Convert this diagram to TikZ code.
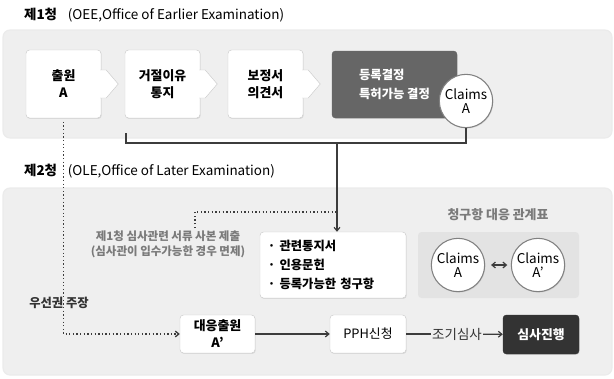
\documentclass[tikz,border=0pt]{standalone}
\usepackage{fontspec}
\setmainfont{Noto Sans CJK KR}
\usetikzlibrary{arrows.meta,shadows,positioning}
\definecolor{panelgray}{HTML}{EFEFEF}
\definecolor{linegray}{HTML}{3C3C3C}
\definecolor{boxline}{HTML}{CCCCCC}
\definecolor{grantgray}{HTML}{666666}
\definecolor{examgray}{HTML}{333333}
\definecolor{notegray}{HTML}{7A7A7A}
\definecolor{tablegray}{HTML}{E3E3E3}

\tikzset{
  panel/.style={fill=panelgray, draw=black!8, line width=1pt, rounded corners=6pt},
  stepbox/.style={draw=boxline, fill=white, rounded corners=3pt, align=center, inner sep=0pt,
    drop shadow={opacity=.2, shadow xshift=.6pt, shadow yshift=-.8pt},
    font=\fontsize{11}{14.5}\selectfont\bfseries},
  tab/.style={draw=boxline, fill=white},
  claim/.style={circle, draw=black!50, line width=.9pt, fill=white, minimum size=1.6cm,
    inner sep=0pt, align=center, font=\fontsize{11.5}{12}\selectfont,
    drop shadow={opacity=.2, shadow xshift=.6pt, shadow yshift=-.8pt}},
  conn/.style={draw=linegray, line width=1pt},
  arr/.style={conn, -{Straight Barb[length=3pt,width=5pt]}},
  dotline/.style={draw=linegray, line width=1.1pt, dotted},
  heading/.style={anchor=west, font=\fontsize{11.5}{14}\selectfont}
}

\begin{document}
\begin{tikzpicture}[x=0.03cm,y=-0.03cm]
\useasboundingbox (0,0) rectangle (614,378);

\node[heading] (ttl1) at (20,15) {\textbf{제1청}\hspace{.8em}(OEE,Office of Earlier Examination)};
\draw[panel] (3,30) rectangle (612,138);
\node[heading] (ttl2) at (20,171) {\textbf{제2청}\hspace{.8em}(OLE,Office of Later Examination)};
\draw[panel] (3,188) rectangle (612,375);

% first office
\node[stepbox, minimum width=2.25cm, minimum height=2.04cm] (app) at (63.5,84) {출원\\A};
\node[stepbox, minimum width=2.25cm, minimum height=2.04cm] (rej) at (162.5,84) {거절이유\\통지};
\node[stepbox, minimum width=2.25cm, minimum height=2.04cm] (amend) at (265.5,84) {보정서\\의견서};
\foreach \n in {app,rej,amend}
  \draw[tab] ([shift={(-1,-14)}]\n.east) -- ++(6,0) -- ++(12,14) -- ++(-12,14) -- ++(-6,0);
\node[stepbox, fill=grantgray, draw=grantgray, text=white, align=left, minimum width=3.75cm,
  minimum height=2.01cm, font=\fontsize{10.5}{16}\selectfont\bfseries] (grant) at (394.5,84.5) {등록결정\\특허가능 결정};
\node[claim] (clA) at (466,101) {Claims\\A};

\coordinate (brl) at (126,133);
\coordinate (brm) at (337,143);
\draw[conn] (brl) -- ++(0,10) -| (clA.south);

% second office
\node[font=\fontsize{9.8}{12.8}\selectfont\bfseries, text=notegray, align=center] (note) at (168,244)
  {제1청 심사관련 서류 사본 제출\\(심사관이 입수가능한 경우 면제)};
\node[stepbox, align=left, text width=3.9cm, inner xsep=.24cm, minimum height=1.98cm,
  font=\fontsize{10.5}{16}\selectfont\bfseries] (docs) at (333,265) {· 관련통지서\\· 인용문헌\\· 등록가능한 청구항};

\node[font=\fontsize{11}{12}\selectfont\bfseries, text=notegray] (tbltitle) at (498,215) {청구항 대응 관계표};
\node[fill=tablegray, rounded corners=3pt, minimum width=4.83cm, minimum height=1.98cm] (tbl) at (498.5,265) {};
\node[claim] (clA2) at (458,265) {Claims\\A};
\node[claim] (clB) at (538,265) {Claims\\A’};

\node[stepbox, minimum width=2.25cm, minimum height=1.14cm] (ctr) at (217.5,334) {대응출원\\A’};
\node[stepbox, minimum width=2.28cm, minimum height=1.14cm, font=\fontsize{11}{12}\selectfont] (pph) at (368,334) {PPH신청};
\node[stepbox, fill=examgray, draw=examgray, text=white, minimum width=2.28cm, minimum height=1.17cm] (exam) at (541,334.5) {심사진행};
\node[font=\fontsize{11.5}{12}\selectfont, text=black!80, inner sep=1pt] (early) at (457,334) {조기심사};

\coordinate (cp) at (195,228);
\draw[dotline] (cp) |- (337,212);
\draw[arr] (brm) -- (brm |- docs.north);
\draw[dotline, -{Straight Barb[length=3pt,width=5pt]}, shorten <=3pt] (app.south) |- (ctr.west);
\node[font=\fontsize{10.5}{12}\selectfont\bfseries, text=black!80] (prio) at (59,303) {우선권 주장};

\draw[conn, {Straight Barb[length=3pt,width=5pt]}-{Straight Barb[length=3pt,width=5pt]},
  shorten <=5pt, shorten >=3pt] (clA2) -- (clB);
\draw[arr] (ctr) -- (pph);
\draw[conn] (pph) -- (early);
\draw[arr] (early) -- (exam);

\end{tikzpicture}
\end{document}
